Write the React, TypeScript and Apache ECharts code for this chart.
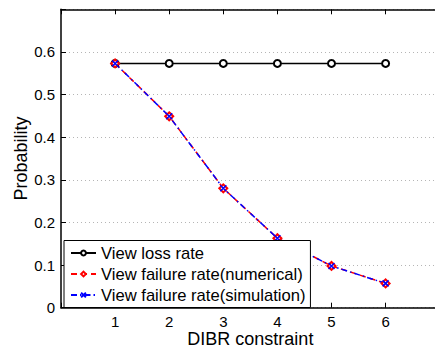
import React, { useEffect, useRef } from "react";
import * as echarts from "echarts";

const constraints = [1, 2, 3, 4, 5, 6];
const viewLossRate = [0.573, 0.573, 0.573, 0.573, 0.573, 0.573];
const failureNumerical = [0.573, 0.449, 0.28, 0.163, 0.098, 0.057];
const failureSimulation = [0.573, 0.449, 0.28, 0.163, 0.098, 0.057];
const seriesNames = [
  "View loss rate",
  "View failure rate(numerical)",
  "View failure rate(simulation)",
];
const xTickLabels = ["1", "2", "3", "4", "5", "6"];
const yTickLabels = ["0", "0.1", "0.2", "0.3", "0.4", "0.5", "0.6"];

const FONT = "'Liberation Sans', Arial, Helvetica, sans-serif";

export default function App() {
  const ref = useRef<HTMLDivElement>(null);
  useEffect(() => {
    if (!ref.current) return;
    const chart = echarts.init(ref.current, undefined, { renderer: "svg" });
    const toPairs = (vals: number[]) => constraints.map((c, i) => [c, vals[i]]);
    const axisLine = { show: true, lineStyle: { color: "#000", width: 1.5 } };
    chart.setOption({
      animation: false,
      backgroundColor: "#fff",
      textStyle: { fontFamily: FONT },
      grid: {
        left: 61,
        top: 9.3,
        right: 0.3,
        bottom: 41.3,
        containLabel: false,
        outerBoundsMode: "none",
      },
      legend: {
        orient: "vertical",
        left: 64,
        top: 240.5,
        padding: [4, 5, 4, 6],
        itemWidth: 25,
        itemHeight: 6,
        itemGap: 4,
        borderColor: "#000",
        borderWidth: 1,
        borderRadius: 0,
        backgroundColor: "#fff",
        textStyle: { fontSize: 16.6, color: "#000", fontFamily: FONT, lineHeight: 16 },
        data: seriesNames,
      },
      xAxis: [
        {
          type: "value",
          min: 0,
          max: 7,
          interval: 1,
          name: "DIBR constraint",
          nameLocation: "middle",
          nameGap: 22,
          nameMoveOverlap: false,
          nameTextStyle: { fontSize: 18, lineHeight: 18, color: "#000", fontFamily: FONT },
          axisLine,
          axisTick: { show: true, inside: true, length: 5, lineStyle: { color: "#000" } },
          axisLabel: {
            fontSize: 15,
            color: "#000",
            margin: 6,
            fontFamily: FONT,
            formatter: (v: number) => {
              const i = constraints.indexOf(v);
              return i >= 0 ? xTickLabels[i] : "";
            },
          },
          splitLine: { show: false },
        },
        {
          type: "value",
          position: "top",
          min: 0,
          max: 7,
          interval: 1,
          axisLine,
          axisTick: { show: true, inside: true, length: 5, lineStyle: { color: "#000" } },
          axisLabel: { show: false },
          splitLine: { show: false },
        },
      ],
      yAxis: {
        type: "value",
        min: 0,
        max: 0.7,
        interval: 0.1,
        name: "Probability",
        nameLocation: "middle",
        nameGap: 31,
        nameMoveOverlap: false,
        nameTextStyle: { fontSize: 18, lineHeight: 18, color: "#000", fontFamily: FONT },
        axisLine,
        axisTick: { show: true, inside: true, length: 5, lineStyle: { color: "#000" } },
        axisLabel: {
          fontSize: 15,
          color: "#000",
          margin: 6,
          fontFamily: FONT,
          formatter: (v: number) => {
            const i = Math.round(v * 10);
            return i < yTickLabels.length ? yTickLabels[i] : "";
          },
        },
        splitLine: { show: true, lineStyle: { color: "#b5b5b5", type: [1, 3], width: 1 } },
      },
      series: [
        {
          name: seriesNames[0],
          type: "line",
          data: toPairs(viewLossRate),
          symbol: "emptyCircle",
          symbolSize: 7,
          lineStyle: { color: "#000", width: 1.5 },
          itemStyle: { color: "#000", borderColor: "#000", borderWidth: 1.5 },
        },
        {
          name: seriesNames[1],
          type: "line",
          data: toPairs(failureNumerical),
          symbol: "emptyDiamond",
          symbolSize: 8,
          lineStyle: { color: "#ff0000", width: 1.5, type: [6, 4] },
          itemStyle: { color: "#ff0000", borderColor: "#ff0000", borderWidth: 2 },
        },
        {
          name: seriesNames[2],
          type: "line",
          data: toPairs(failureSimulation),
          symbol: "path://M0,0L10,10M10,0L0,10",
          symbolSize: 6,
          lineStyle: { color: "#0000ff", width: 1.5, type: [6, 3, 1.5, 3] },
          itemStyle: { color: "#0000ff", borderColor: "#0000ff", borderWidth: 1.5 },
        },
      ],
    });
    return () => chart.dispose();
  }, []);
  return (
    <div style={{ position: "absolute", left: 0, top: 0, width: 435, height: 349, overflow: "hidden", background: "#fff" }}>
      <div ref={ref} style={{ width: 440, height: 349 }} />
    </div>
  );
}
